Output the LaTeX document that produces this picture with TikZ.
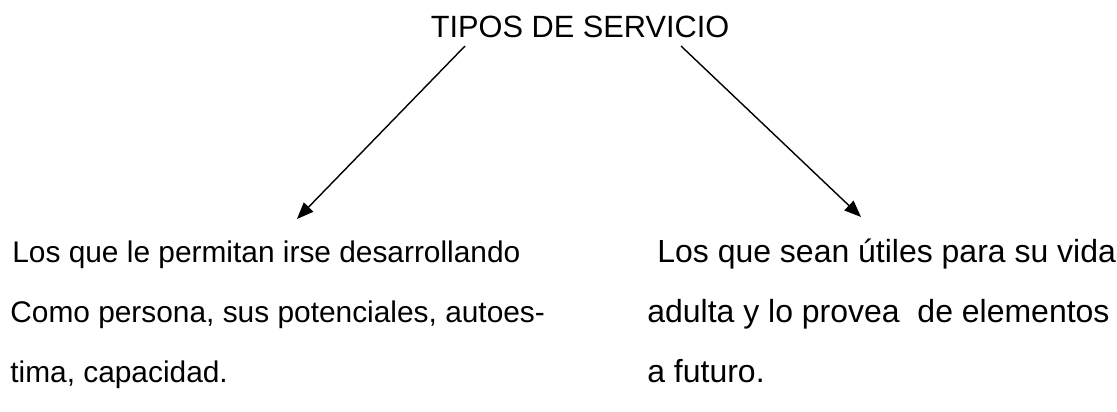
\documentclass[tikz,border=0pt]{standalone}
\usepackage{fontspec}
\setmainfont{Liberation Sans}
\usetikzlibrary{arrows.meta}

\begin{document}
\begin{tikzpicture}
[
    x=0.02cm, y=-0.02cm,
    texto/.style={anchor=base west, inner sep=0pt, font=\fontsize{17}{20}\selectfont},
    textoder/.style={texto, font=\fontsize{18.2}{21}\selectfont},
    flecha/.style={line width=0.8pt, -{Triangle[length=9.5pt, width=7.5pt]}},
]
\useasboundingbox (0,0) rectangle (1117,412);
\node [anchor=base, inner sep=0pt, font=\fontsize{17.5}{20}\selectfont] (tipos) at (580,38)
{TIPOS DE SERVICIO};
% izquierda
\node [texto] (izq1) at (12,263) {Los que le permitan irse desarrollando};
\node [texto] (izq2) at (10,322) {Como persona, sus potenciales, autoes-};
\node [texto] (izq3) at (10,382) {tima, capacidad.};
% derecha
\node [textoder] (der1) at (657,263) {Los que sean útiles para su vida};
\node [textoder] (der2) at (647,322) {adulta y lo provea\ \ de elementos};
\node [textoder] (der3) at (647,382) {a futuro.};
\coordinate (salidaIzq) at (465,46);
\coordinate (puntaIzq) at (297,219);
\coordinate (salidaDer) at (681,46);
\coordinate (puntaDer) at (861,217);
\draw [flecha] (salidaIzq) -- (puntaIzq);
\draw [flecha] (salidaDer) -- (puntaDer);
\end{tikzpicture}
\end{document}
